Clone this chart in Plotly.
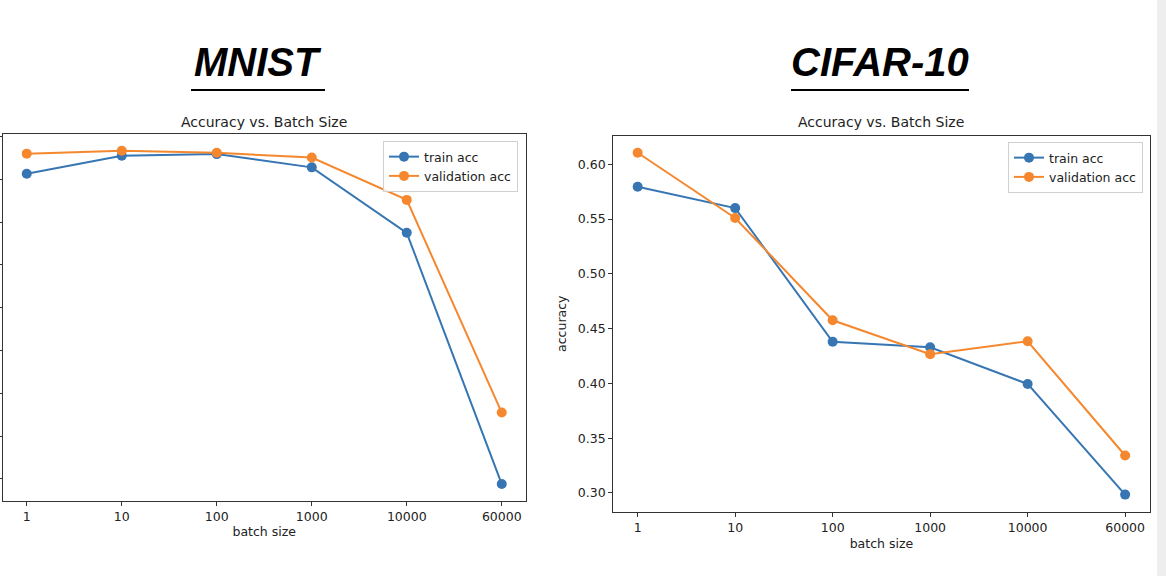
import plotly.graph_objects as go

batch_sizes = ["1", "10", "100", "1000", "10000", "60000"]

mnist_train = [0.913, 0.955, 0.959, 0.928, 0.775, 0.188]
mnist_val = [0.960, 0.967, 0.962, 0.951, 0.852, 0.355]
mnist_yticks = [0.2, 0.3, 0.4, 0.5, 0.6, 0.7, 0.8, 0.9, 1.0]

cifar_train = [0.5795, 0.560, 0.438, 0.433, 0.3995, 0.2985]
cifar_val = [0.6105, 0.551, 0.4576, 0.4267, 0.4385, 0.3342]
cifar_yticks = [0.30, 0.35, 0.40, 0.45, 0.50, 0.55, 0.60]
cifar_yticklabels = ["0.30", "0.35", "0.40", "0.45", "0.50", "0.55", "0.60"]

series_names = ["train acc", "validation acc"]
panel_titles = ["MNIST", "CIFAR-10"]
subtitle = "Accuracy vs. Batch Size"

BLUE = "#3776b3"
ORANGE = "#f5882f"
TXT = "#222222"
W, H = 1166, 576


def px(x):
    return x / W


def py(y):
    return 1 - y / H


def padded(vals):
    lo, hi = min(vals), max(vals)
    p = (hi - lo) * 0.05
    return [lo - p, hi + p]


fig = go.Figure()

for ser, col, name, leg in [
    (mnist_train, BLUE, series_names[0], "legend"),
    (mnist_val, ORANGE, series_names[1], "legend"),
]:
    fig.add_trace(go.Scatter(x=batch_sizes, y=ser, mode="lines+markers", name=name,
                             line=dict(color=col, width=2), marker=dict(color=col, size=10),
                             xaxis="x", yaxis="y", legend=leg))
for ser, col, name, leg in [
    (cifar_train, BLUE, series_names[0], "legend2"),
    (cifar_val, ORANGE, series_names[1], "legend2"),
]:
    fig.add_trace(go.Scatter(x=batch_sizes, y=ser, mode="lines+markers", name=name,
                             line=dict(color=col, width=2), marker=dict(color=col, size=10),
                             xaxis="x2", yaxis="y2", legend=leg))

tickfont = dict(family="DejaVu Sans", size=12.5, color=TXT)
common_axis = dict(showline=True, mirror=True, linecolor="#333333", linewidth=1.2,
                   ticks="outside", ticklen=4, tickcolor="#333333", showgrid=False,
                   zeroline=False, tickfont=tickfont)

fig.update_layout(
    width=W, height=H,
    margin=dict(l=0, r=0, t=0, b=0),
    paper_bgcolor="white", plot_bgcolor="white",
    xaxis=dict(domain=[px(3), px(525.5)], anchor="y", type="category",
               range=[-0.25, 5.25],
               title=dict(text="batch size", font=dict(family="DejaVu Sans", size=12.5, color=TXT), standoff=3),
               **common_axis),
    yaxis=dict(domain=[py(500.7), py(134)], anchor="x", range=padded(mnist_train + mnist_val),
               tickvals=mnist_yticks, showticklabels=False, **common_axis),
    xaxis2=dict(domain=[px(613.3), px(1149.5)], anchor="y2", type="category",
                range=[-0.25, 5.25],
                title=dict(text="batch size", font=dict(family="DejaVu Sans", size=12.5, color=TXT), standoff=5),
                **common_axis),
    yaxis2=dict(domain=[py(511.7), py(135.7)], anchor="x2", range=padded(cifar_train + cifar_val),
                tickvals=cifar_yticks, ticktext=cifar_yticklabels,
                title=dict(text="accuracy", font=dict(family="DejaVu Sans", size=12.5, color=TXT), standoff=8),
                **common_axis),
    legend=dict(x=px(518), y=py(141), xanchor="right", yanchor="top",
                bgcolor="rgba(255,255,255,0.8)", bordercolor="#d0d0d0", borderwidth=1,
                font=dict(family="DejaVu Sans", size=12.5, color=TXT), tracegroupgap=0),
    legend2=dict(x=px(1143), y=py(142), xanchor="right", yanchor="top",
                 bgcolor="rgba(255,255,255,0.8)", bordercolor="#d0d0d0", borderwidth=1,
                 font=dict(family="DejaVu Sans", size=12.5, color=TXT), tracegroupgap=0),
    showlegend=True,
)

# subplot titles
for cx, cy in [((3 + 525.5) / 2, 122), ((613.3 + 1149.5) / 2, 122)]:
    fig.add_annotation(x=px(cx), y=py(cy), xref="paper", yref="paper", text=subtitle,
                       showarrow=False, xanchor="center", yanchor="middle",
                       font=dict(family="DejaVu Sans", size=14, color=TXT))

# big panel titles with underline
for title, x0, x1 in [(panel_titles[0], 191, 325), (panel_titles[1], 791, 969)]:
    fig.add_annotation(x=px((x0 + x1) / 2), y=py(62), xref="paper", yref="paper",
                       text="<b><i>" + title + "</i></b>", showarrow=False,
                       xanchor="center", yanchor="middle",
                       font=dict(family="Liberation Sans Narrow, Arial Narrow, Liberation Sans", size=40, color="black"))
    fig.add_shape(type="line", xref="paper", yref="paper", x0=px(x0), x1=px(x1),
                  y0=py(90), y1=py(90), line=dict(color="black", width=2))

# grey strip at the right edge
fig.add_shape(type="rect", xref="paper", yref="paper", x0=px(1157), x1=1, y0=0, y1=1,
              fillcolor="#eeeeee", line=dict(width=0), layer="below")

fig.write_html("out.html", config={"displayModeBar": False},
               post_script="document.body.style.margin='0';document.body.style.overflow='hidden';")
